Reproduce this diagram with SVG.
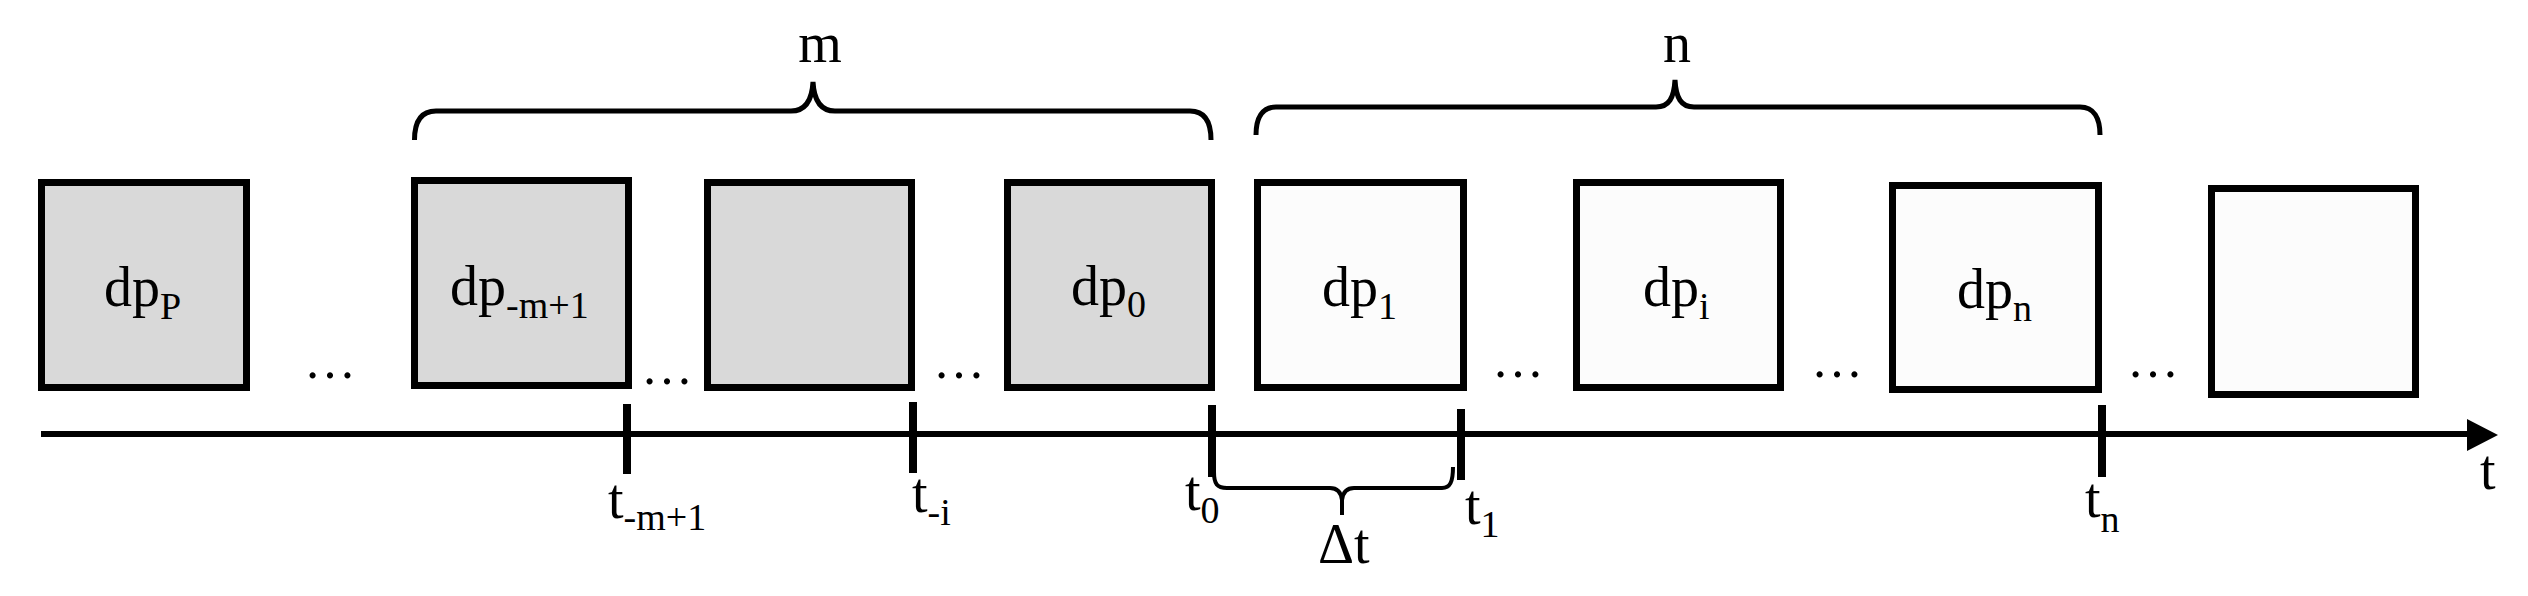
<svg xmlns="http://www.w3.org/2000/svg" width="2528" height="596" viewBox="0 0 2528 596">
<style>
.past{fill:#d9d9d9;stroke:#000;stroke-width:7}
.fut{fill:#fcfcfc;stroke:#000;stroke-width:7}
.t{font-family:"Liberation Serif","Times New Roman",serif;font-size:56px;fill:#000}
.s{font-size:38px}
.dots{font-family:"Liberation Serif","Times New Roman",serif;font-size:52px;fill:#000;text-anchor:middle}
.axis{stroke:#000;stroke-width:6;fill:none}
.tick{stroke:#000;stroke-width:8;fill:none}
.brace{stroke:#000;stroke-width:5;fill:none}
.brace2{stroke:#000;stroke-width:4;fill:none}
</style>
<rect width="2528" height="596" fill="#fff"/>
<g id="node-dpP"><rect class="past" x="41.5" y="182.5" width="205" height="205"/><text class="t" x="104" y="306">dp<tspan class="s" dy="13">P</tspan></text></g>
<g id="node-dp-m1"><rect class="past" x="414.5" y="180.5" width="214" height="205"/><text class="t" x="450" y="305">dp<tspan class="s" dy="13">-m+1</tspan></text></g>
<g id="node-blank-past"><rect class="past" x="707.5" y="182.5" width="204" height="205"/></g>
<g id="node-dp0"><rect class="past" x="1007.5" y="182.5" width="204" height="205"/><text class="t" x="1071" y="305">dp<tspan class="s" dy="12">0</tspan></text></g>
<g id="node-dp1"><rect class="fut" x="1257.5" y="182.5" width="206" height="205"/><text class="t" x="1322" y="306">dp<tspan class="s" dy="13">1</tspan></text></g>
<g id="node-dpi"><rect class="fut" x="1576.5" y="182.5" width="204" height="205"/><text class="t" x="1643" y="306">dp<tspan class="s" dy="13">i</tspan></text></g>
<g id="node-dpn"><rect class="fut" x="1892.5" y="185.5" width="206" height="204"/><text class="t" x="1957" y="308">dp<tspan class="s" dy="13">n</tspan></text></g>
<g id="node-blank-future"><rect class="fut" x="2211.5" y="188.5" width="204" height="206"/></g>
<g id="ellipses">
<text class="dots" x="330" y="378">…</text>
<text class="dots" x="667" y="384">…</text>
<text class="dots" x="959" y="378">…</text>
<text class="dots" x="1518" y="377">…</text>
<text class="dots" x="1837" y="377">…</text>
<text class="dots" x="2153" y="377">…</text>
</g>
<g id="connectors">
<line class="axis" x1="41" y1="434" x2="2470" y2="434"/>
<polygon points="2467,419 2498,435 2467,451" fill="#000"/>
<line class="tick" x1="627" y1="404" x2="627" y2="474"/>
<line class="tick" x1="913" y1="402" x2="913" y2="473"/>
<line class="tick" x1="1212" y1="405" x2="1212" y2="477"/>
<line class="tick" x1="1461" y1="409" x2="1461" y2="480"/>
<line class="tick" x1="2102" y1="405" x2="2102" y2="477"/>
<path class="brace" d="M414.5,140 C414.5,122 421,111 436,111 L791,111 C805,111 812,101 813,82 C814,101 821,111 835,111 L1190,111 C1205,111 1211,122 1211,140"/>
<path class="brace" d="M1256,135 C1256,118 1262,107 1276,107 L1656,107 C1669,107 1674,98 1675,80 C1676,98 1681,107 1694,107 L2080,107 C2094,107 2100,118 2100,135"/>
<path class="brace2" d="M1214,472 C1214,484 1217,488 1227,488 L1330,488 C1337,488 1341,492 1342,500 L1342,515 M1342,500 C1343,492 1347,488 1354,488 L1442,488 C1450,488 1453,482 1453,467"/>
</g>
<g id="labels">
<text class="t" x="820" y="62" text-anchor="middle">m</text>
<text class="t" x="1677" y="62" text-anchor="middle">n</text>
<text class="t" x="608" y="518">t<tspan class="s" dy="12">-m+1</tspan></text>
<text class="t" x="912" y="512">t<tspan class="s" dy="13">-i</tspan></text>
<text class="t" x="1185" y="510">t<tspan class="s" dy="13">0</tspan></text>
<text class="t" x="1465" y="524">t<tspan class="s" dy="13">1</tspan></text>
<text class="t" x="2085" y="517">t<tspan class="s" dy="15">n</tspan></text>
<text class="t" x="1318" y="563">Δt</text>
<text class="t" x="2480" y="489">t</text>
</g>
</svg>
